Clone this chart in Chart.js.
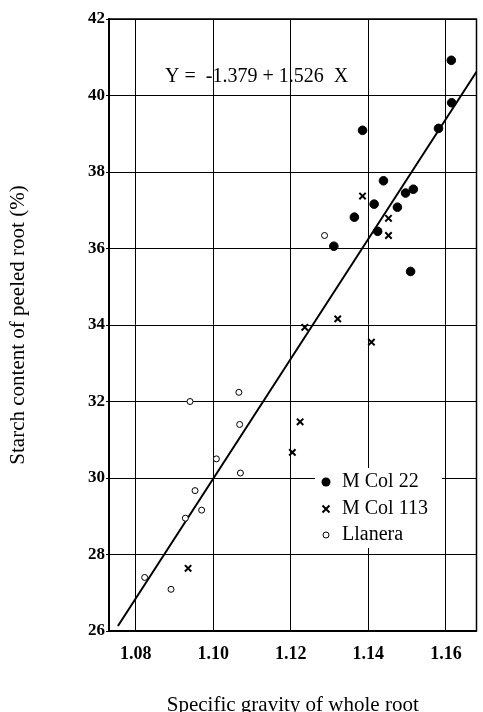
<!DOCTYPE html>
<html>
<head>
<meta charset="utf-8">
<script src="https://cdn.jsdelivr.net/npm/chart.js@4/dist/chart.umd.min.js"></script>
<style>
  html, body { margin: 0; padding: 0; background: #fff; }
  #wrap { width: 483px; height: 712px; }
</style>
</head>
<body>
<div id="wrap"><canvas id="chart" width="483" height="712"></canvas></div>
<script>
// values
const col22X = [1.1614, 1.1615, 1.1581, 1.1385, 1.1439, 1.1516, 1.1496, 1.1415, 1.1475, 1.1364, 1.1424, 1.1311, 1.1509];
const col22Y = [40.92, 39.81, 39.14, 39.09, 37.77, 37.55, 37.45, 37.16, 37.08, 36.82, 36.45, 36.06, 35.40];

const col113X = [1.1385, 1.1452, 1.1452, 1.1236, 1.1321, 1.1408, 1.1224, 1.1204, 1.0935];
const col113Y = [37.37, 36.79, 36.34, 33.94, 34.16, 33.55, 31.47, 30.67, 27.64];

const llaneraX = [1.1287, 1.0940, 1.1066, 1.1068, 1.1008, 1.1070, 1.0953, 1.0970, 1.0928, 1.0823, 1.0891];
const llaneraY = [36.34, 32.00, 32.24, 31.40, 30.50, 30.13, 29.67, 29.16, 28.95, 27.40, 27.09];

// fitted line as drawn (end points)
const fitX = [1.0754, 1.1679];
const fitY = [26.13, 40.62];

const xTicks = [1.08, 1.10, 1.12, 1.14, 1.16];
const yTicks = [26, 28, 30, 32, 34, 36, 38, 40, 42];
const equation = 'Y =  -1.379 + 1.526  X';

const SERIF = '"Liberation Serif", "DejaVu Serif", serif';

function pts(xs, ys) {
    return xs.map((x, i) => ({ x, y: ys[i] }));
}

// frame, equation and legend
const extras = {
    id: 'extras',
    afterDraw(chart) {
        const ctx = chart.ctx;
        const a = chart.chartArea;
        ctx.save();
        ctx.strokeStyle = '#000';
        ctx.lineWidth = 1.5;
        ctx.strokeRect(a.left, a.top, a.right - a.left, a.bottom - a.top);

        ctx.fillStyle = '#000';
        ctx.font = '20px ' + SERIF;
        ctx.textBaseline = 'middle';
        ctx.textAlign = 'left';
        ctx.fillText(equation, 165, 77);

        // legend box
        ctx.fillStyle = '#fff';
        ctx.fillRect(315, 468, 127, 80);
        const rows = [482, 509, 535];
        chart.data.datasets.slice(0, 3).forEach((ds, i) => {
            const y = rows[i];
            const x = 326;
            ctx.strokeStyle = '#000';
            ctx.fillStyle = '#000';
            if (ds.pointStyle === 'crossRot') {
                ctx.lineWidth = 2;
                ctx.beginPath();
                ctx.moveTo(x - 3.5, y - 3.5); ctx.lineTo(x + 3.5, y + 3.5);
                ctx.moveTo(x + 3.5, y - 3.5); ctx.lineTo(x - 3.5, y + 3.5);
                ctx.stroke();
            } else {
                ctx.lineWidth = 1;
                ctx.beginPath();
                ctx.arc(x, y, ds.backgroundColor === '#000' ? 4.5 : 3, 0, Math.PI * 2);
                if (ds.backgroundColor === '#000') ctx.fill(); else ctx.stroke();
            }
            ctx.font = '20px ' + SERIF;
            ctx.fillText(ds.label, 342, y);
        });
        ctx.restore();
    }
};

new Chart(document.getElementById('chart'), {
    type: 'scatter',
    data: {
        datasets: [
            { label: 'M Col 22', data: pts(col22X, col22Y), pointStyle: 'circle',
              pointRadius: 4.3, backgroundColor: '#000', borderColor: '#000', borderWidth: 1 },
            { label: 'M Col 113', data: pts(col113X, col113Y), pointStyle: 'crossRot',
              pointRadius: 4.5, backgroundColor: '#000', borderColor: '#000', borderWidth: 2 },
            { label: 'Llanera', data: pts(llaneraX, llaneraY), pointStyle: 'circle',
              pointRadius: 3, backgroundColor: '#fff', borderColor: '#000', borderWidth: 1 },
            { type: 'line', label: 'fit', data: pts(fitX, fitY), showLine: true,
              borderColor: '#000', borderWidth: 2, pointRadius: 0, fill: false }
        ]
    },
    options: {
        responsive: false,
        animation: false,
        layout: { padding: { top: 19, right: 3, left: 0, bottom: 0 } },
        plugins: { legend: { display: false }, tooltip: { enabled: false } },
        scales: {
            x: {
                type: 'linear',
                min: 1.0731,
                max: 1.1679,
                afterBuildTicks: s => { s.ticks = xTicks.map(v => ({ value: v })); },
                afterFit: s => { s.height = 81; },
                grid: { color: '#000', lineWidth: 1, drawTicks: false },
                border: { color: '#000', width: 1.5 },
                ticks: {
                    padding: 13,
                    color: '#000',
                    font: { family: SERIF, size: 18, weight: 'bold' },
                    callback: v => v.toFixed(2)
                },
                title: {
                    display: true,
                    text: 'Specific gravity of whole root',
                    color: '#000',
                    font: { family: SERIF, size: 21, lineHeight: 1.0 },
                    padding: { top: 0, bottom: -4 }
                }
            },
            y: {
                min: 26,
                max: 42,
                afterBuildTicks: s => { s.ticks = yTicks.map(v => ({ value: v })); },
                afterFit: s => { s.width = 109; },
                grid: { color: '#000', lineWidth: 1, drawTicks: true, tickLength: 3 },
                border: { color: '#000', width: 2 },
                ticks: {
                    padding: 1,
                    color: '#000',
                    font: { family: SERIF, size: 17, weight: 'bold' }
                },
                title: {
                    display: true,
                    text: 'Starch content of peeled root (%)',
                    color: '#000',
                    font: { family: SERIF, size: 21, lineHeight: 1.0 },
                    padding: { top: 8, bottom: 0 }
                }
            }
        }
    },
    plugins: [extras]
});
</script>
</body>
</html>
